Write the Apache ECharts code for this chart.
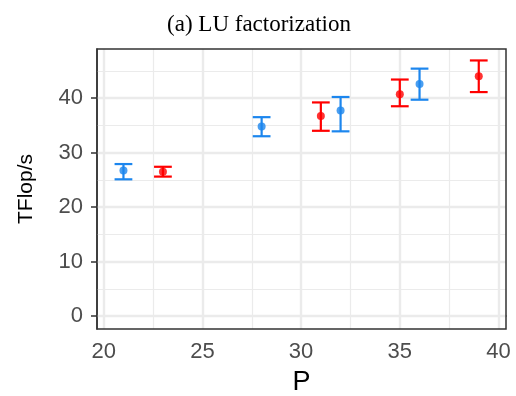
<!DOCTYPE html>
<html><head><meta charset="utf-8">
<script src="https://cdn.jsdelivr.net/npm/echarts@6/dist/echarts.min.js"></script>
<style>html,body{margin:0;padding:0;background:#fff}#c{width:516px;height:396px}</style>
</head><body><div id="c"></div>
<script>
// Data
const blueP = [21, 28, 32, 36];
const blueMean = [26.7, 34.8, 37.7, 42.6];
const blueLow = [25.1, 33.0, 33.9, 39.7];
const blueHigh = [27.9, 36.5, 40.2, 45.4];
const redP = [23, 31, 35, 39];
const redMean = [26.5, 36.7, 40.7, 44.0];
const redLow = [25.6, 34.0, 38.5, 41.1];
const redHigh = [27.4, 39.2, 43.4, 46.9];
const xTicks = [20, 25, 30, 35, 40];
const xMinor = [22.5, 27.5, 32.5, 37.5];
const yTicks = [0, 10, 20, 30, 40];
const yMinor = [5, 15, 25, 35, 45];
const blueColor = '#1C86EE';
const redColor = '#FF0000';

const chart = echarts.init(document.getElementById('c'), null, {renderer: 'canvas'});

function errSeries(name, xs, lo, hi, color) {
  return {
    name: name, type: 'custom', z: 5,
    data: xs.map((x, i) => [x, lo[i], hi[i]]),
    renderItem: function (params, api) {
      const x = api.value(0);
      const a = api.coord([x, api.value(1)]);
      const b = api.coord([x, api.value(2)]);
      const hw = api.size([0.9, 0])[0] / 2;
      const st = {stroke: color, lineWidth: 2.2};
      return {type: 'group', children: [
        {type: 'line', shape: {x1: a[0], y1: a[1], x2: b[0], y2: b[1]}, style: st},
        {type: 'line', shape: {x1: a[0] - hw, y1: a[1], x2: a[0] + hw, y2: a[1]}, style: st},
        {type: 'line', shape: {x1: b[0] - hw, y1: b[1], x2: b[0] + hw, y2: b[1]}, style: st}
      ]};
    }
  };
}

const gridLines = {
  type: 'line', data: [], silent: true, z: 0,
  markLine: {
    silent: true, symbol: 'none', label: {show: false}, animation: false,
    data: [].concat(
      xMinor.map(v => ({xAxis: v, lineStyle: {color: '#EBEBEB', width: 1.2, type: 'solid'}})),
      yMinor.map(v => ({yAxis: v, lineStyle: {color: '#EBEBEB', width: 1.2, type: 'solid'}})),
      xTicks.map(v => ({xAxis: v, lineStyle: {color: '#EBEBEB', width: 2.4, type: 'solid'}})),
      yTicks.map(v => ({yAxis: v, lineStyle: {color: '#EBEBEB', width: 2.4, type: 'solid'}}))
    )
  }
};

chart.setOption({
  animation: false,
  title: {
    text: '(a) LU factorization', left: 254, top: 8, textAlign: 'center',
    textStyle: {fontFamily: 'Liberation Serif', fontWeight: 'normal', fontSize: 23, color: '#000'}
  },
  grid: {left: 97, right: 10, top: 49, bottom: 67, containLabel: false, outerBoundsMode: 'none',
         show: true, borderColor: '#333333', borderWidth: 1.5, backgroundColor: 'transparent', z: 10},
  xAxis: {
    type: 'value', min: 19.66, max: 40.38,
    name: 'P', nameLocation: 'middle', nameGap: 40,
    nameTextStyle: {fontFamily: 'Liberation Sans', fontSize: 27, color: '#000'},
    axisLine: {show: true, lineStyle: {color: '#333333', width: 1.5}},
    axisTick: {show: true, customValues: xTicks, length: 6, lineStyle: {color: '#333333', width: 1.5}},
    axisLabel: {customValues: xTicks, fontFamily: 'Liberation Sans', fontSize: 22, color: '#4D4D4D', margin: 12},
    splitLine: {show: false}
  },
  yAxis: {
    type: 'value', min: -2.35, max: 49.0,
    name: 'TFlop/s', nameLocation: 'middle', nameGap: 60, nameRotate: 90,
    nameTextStyle: {fontFamily: 'Liberation Sans', fontSize: 21, color: '#000'},
    axisLine: {show: true, lineStyle: {color: '#333333', width: 1.5}},
    axisTick: {show: true, customValues: yTicks, length: 6, lineStyle: {color: '#333333', width: 1.5}},
    axisLabel: {customValues: yTicks, fontFamily: 'Liberation Sans', fontSize: 22, color: '#4D4D4D', margin: 14},
    splitLine: {show: false}
  },
  series: [
    gridLines,
    errSeries('blue', blueP, blueLow, blueHigh, blueColor),
    errSeries('red', redP, redLow, redHigh, redColor),
    {name: 'blue', type: 'scatter', z: 6, symbolSize: 8, itemStyle: {color: blueColor},
     data: blueP.map((x, i) => [x, blueMean[i]])},
    {name: 'red', type: 'scatter', z: 6, symbolSize: 8, itemStyle: {color: redColor},
     data: redP.map((x, i) => [x, redMean[i]])}
  ]
});
</script></body></html>
